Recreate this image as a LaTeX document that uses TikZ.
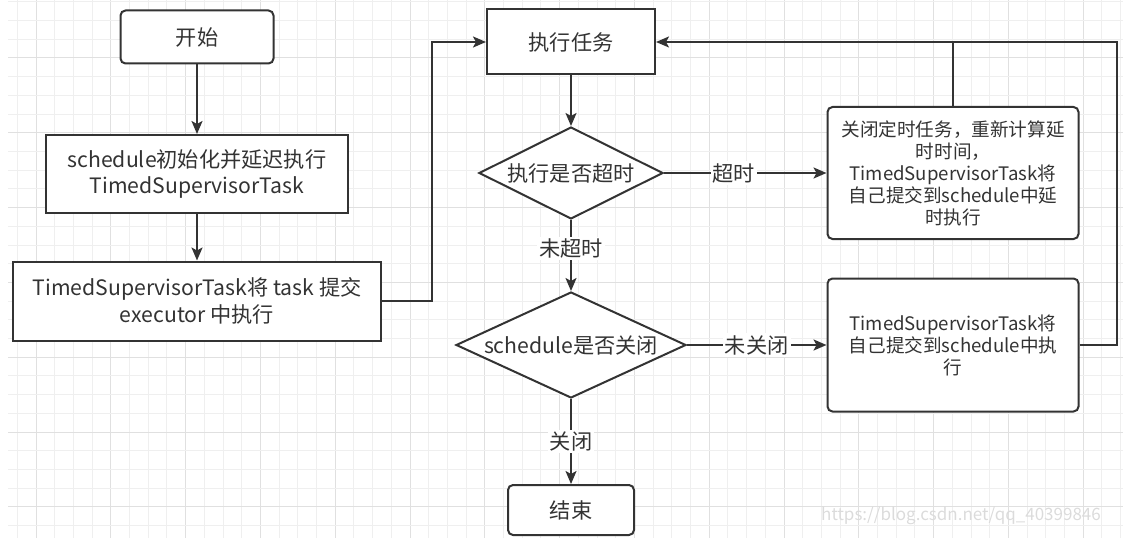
\documentclass[tikz,border=0pt]{standalone}
\usepackage{fontspec}
\setmainfont{Noto Sans CJK SC}
\usetikzlibrary{arrows.meta,shapes.geometric}
\definecolor{ink}{HTML}{333333}
\definecolor{gridminor}{HTML}{EFEFEF}
\definecolor{gridmajor}{HTML}{E0E0E0}

\begin{document}
\begin{tikzpicture}[
  x=0.5pt, y=-0.5pt,
  font=\fontsize{10.6}{13.4}\selectfont,
  box/.style={draw=ink, line width=1pt, fill=white, text=ink, align=center, inner sep=2pt},
  term/.style={box, rounded corners=2.5pt},
  note/.style={box, rounded corners=2.5pt, font=\fontsize{9.3}{11}\selectfont},
  dec/.style={draw=ink, line width=1pt, fill=white, text=ink, diamond, inner sep=0pt, align=center},
  a/.style={draw=ink, line width=1pt, -{Stealth[length=6.5pt,width=5.5pt,inset=1.5pt]}},
  ln/.style={draw=ink, line width=1pt},
  el/.style={fill=white, text=ink, inner sep=1pt}
]
\useasboundingbox (0,0) rectangle (1138,545);

% ---- background grid ----
\foreach \i in {0,...,59}{
  \pgfmathsetmacro{\gx}{17.3+18.7*\i}
  \pgfmathtruncatemacro{\gm}{mod(\i,4)}
  \ifnum\gm=1 \def\gc{gridmajor}\else \def\gc{gridminor}\fi
  \draw[\gc, line width=0.5pt] (\gx,0) -- (\gx,538);
}
\foreach \j in {0,...,28}{
  \pgfmathsetmacro{\gy}{1.9+18.7*\j}
  \pgfmathtruncatemacro{\gm}{mod(\j,4)}
  \ifnum\gm=3 \def\gc{gridmajor}\else \def\gc{gridminor}\fi
  \draw[\gc, line width=0.5pt] (8,\gy) -- (1123,\gy);
}

% ---- left column ----
\node[term, minimum width=76.5pt, minimum height=26.5pt] (start) at (197,37) {开始};
\node[box, minimum width=151pt, minimum height=39pt] (init) at (197,174)
  {schedule初始化并延迟执行\\TimedSupervisorTask};
\node[box, minimum width=184pt, minimum height=39.5pt] (submit) at (197,301)
  {TimedSupervisorTask将 task 提交\\executor 中执行};
\draw[a] (start) -- (init);
\draw[a] (init) -- (submit);

% ---- middle column ----
\node[box, minimum width=84pt, minimum height=32.5pt] (exec) at (571,42) {执行任务};
\node[dec, aspect=2, minimum width=92pt, minimum height=46pt] (timeout) at (571,173) {执行是否超时};
\node[dec, aspect=2.2, minimum width=115pt, minimum height=53pt] (closed) at (571,345) {schedule是否关闭};
\node[term, minimum width=63pt, minimum height=25pt] (stop) at (571,510) {结束};

\coordinate (loopl) at (432,42);
\draw[a] (submit.east) -| (loopl) -- (exec.west);
\draw[a] (exec) -- (timeout);
\draw[a] (timeout) -- node[el, pos=0.4]{未超时} (closed);
\draw[a] (closed) -- node[el]{关闭} (stop);

% ---- right column ----
\node[note, minimum width=125.5pt, minimum height=66pt] (delay) at (953,173)
  {关闭定时任务，重新计算延\\时时间，\\TimedSupervisorTask将\\自己提交到schedule中延\\时执行};
\node[note, minimum width=125.5pt, minimum height=66.5pt] (resubmit) at (953,345)
  {TimedSupervisorTask将\\自己提交到schedule中执\\行};

\draw[a] (timeout.east) -- node[el, pos=0.43]{超时} (delay.west);
\draw[a] (closed.east) -- node[el]{未关闭} (resubmit.west);

% ---- feedback to the task ----
\coordinate (loopr) at (1117,42);
\draw[a] (resubmit.east) -| (loopr) -- (exec.east);
\draw[ln] (delay.north) -- (delay.north |- exec.east);

\node[text=gray!28, font=\fontsize{8.5}{10}\selectfont] (mark) at (961,516)
  {https://blog.csdn.net/qq\_40399846};
\end{tikzpicture}
\end{document}
